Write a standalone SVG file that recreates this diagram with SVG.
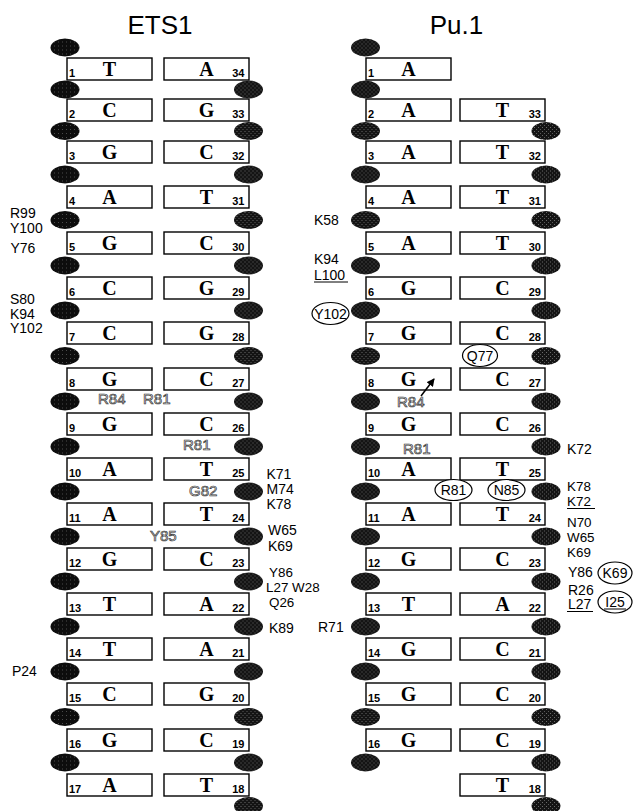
<svg xmlns="http://www.w3.org/2000/svg" xmlns:xlink="http://www.w3.org/1999/xlink" width="633" height="811" viewBox="0 0 633 811">
<style>
  .nt rect { fill: #fff; stroke: #000; stroke-width: 1.4; }
  .b { font-family: "Liberation Serif", serif; font-weight: bold; font-size: 20px; text-anchor: middle; fill: #000; }
  .n { font-family: "Liberation Sans", Arial, sans-serif; font-weight: bold; font-size: 11px; fill: #000; }
  .ne { font-family: "Liberation Sans", Arial, sans-serif; font-weight: bold; font-size: 11px; fill: #000; text-anchor: end; }
  .lab { font-family: "Liberation Sans", Arial, sans-serif; font-size: 14px; fill: #000; }
  .labs { font-family: "Liberation Sans", Arial, sans-serif; font-size: 13.4px; fill: #000; }
  .ol { font-family: "Liberation Sans", Arial, sans-serif; font-size: 15px; fill: #fff; stroke: #333; stroke-width: 0.7; }
  .title { font-family: "Liberation Sans", Arial, sans-serif; font-size: 26px; text-anchor: middle; fill: #000; }
  .ring { fill: #fff; stroke: #000; stroke-width: 1.2; }
  .rt { font-family: "Liberation Sans", Arial, sans-serif; font-size: 14px; text-anchor: middle; fill: #000; }
  .ul { stroke: #000; stroke-width: 1; }
</style>
<defs>
  <pattern id="stipA" width="4" height="4" patternUnits="userSpaceOnUse">
    <rect width="4" height="4" fill="#0d0d0d"/>
    <rect x="1" y="2" width="1" height="1" fill="#4a4a4a"/>
  </pattern>
  <pattern id="stipB" width="4" height="4" patternUnits="userSpaceOnUse">
    <rect width="4" height="4" fill="#141414"/>
    <rect x="0" y="0" width="1" height="1" fill="#6a6a6a"/>
    <rect x="2" y="2" width="1" height="1" fill="#5a5a5a"/>
  </pattern>
  <ellipse id="ovA" rx="14.5" ry="9" fill="url(#stipA)"/>
  <ellipse id="ovB" rx="14.5" ry="9" fill="url(#stipB)"/>
  <marker id="ah" markerWidth="8" markerHeight="8" refX="7" refY="4" orient="auto" markerUnits="userSpaceOnUse">
    <path d="M0,0 L8,4 L0,8 Z" fill="#000"/>
  </marker>
</defs>
<rect width="633" height="811" fill="#fff"/>

<text class="title" x="160" y="34">ETS1</text>
<text class="title" x="456.5" y="34">Pu.1</text>

<!-- ETS1 boxes -->
<g id="ets1-strand-left">
<g id="e-l1" class="nt"><rect x="67" y="58" width="85" height="22"/><text class="b" x="109.5" y="76">T</text><text class="n" x="69" y="76.5">1</text></g>
<g id="e-l2" class="nt"><rect x="67" y="99" width="85" height="22"/><text class="b" x="109.5" y="117">C</text><text class="n" x="69" y="117.5">2</text></g>
<g id="e-l3" class="nt"><rect x="67" y="141" width="85" height="22"/><text class="b" x="109.5" y="159">G</text><text class="n" x="69" y="159.5">3</text></g>
<g id="e-l4" class="nt"><rect x="67" y="186" width="85" height="22"/><text class="b" x="109.5" y="204">A</text><text class="n" x="69" y="204.5">4</text></g>
<g id="e-l5" class="nt"><rect x="67" y="232" width="85" height="22"/><text class="b" x="109.5" y="250">G</text><text class="n" x="69" y="250.5">5</text></g>
<g id="e-l6" class="nt"><rect x="67" y="277" width="85" height="22"/><text class="b" x="109.5" y="295">C</text><text class="n" x="69" y="295.5">6</text></g>
<g id="e-l7" class="nt"><rect x="67" y="322" width="85" height="22"/><text class="b" x="109.5" y="340">C</text><text class="n" x="69" y="340.5">7</text></g>
<g id="e-l8" class="nt"><rect x="67" y="368" width="85" height="22"/><text class="b" x="109.5" y="386">G</text><text class="n" x="69" y="386.5">8</text></g>
<g id="e-l9" class="nt"><rect x="67" y="413" width="85" height="22"/><text class="b" x="109.5" y="431">G</text><text class="n" x="69" y="431.5">9</text></g>
<g id="e-l10" class="nt"><rect x="67" y="458" width="85" height="22"/><text class="b" x="109.5" y="476">A</text><text class="n" x="69" y="476.5">10</text></g>
<g id="e-l11" class="nt"><rect x="67" y="503" width="85" height="22"/><text class="b" x="109.5" y="521">A</text><text class="n" x="69" y="521.5">11</text></g>
<g id="e-l12" class="nt"><rect x="67" y="548" width="85" height="22"/><text class="b" x="109.5" y="566">G</text><text class="n" x="69" y="566.5">12</text></g>
<g id="e-l13" class="nt"><rect x="67" y="593" width="85" height="22"/><text class="b" x="109.5" y="611">T</text><text class="n" x="69" y="611.5">13</text></g>
<g id="e-l14" class="nt"><rect x="67" y="638" width="85" height="22"/><text class="b" x="109.5" y="656">T</text><text class="n" x="69" y="656.5">14</text></g>
<g id="e-l15" class="nt"><rect x="67" y="683" width="85" height="22"/><text class="b" x="109.5" y="701">C</text><text class="n" x="69" y="701.5">15</text></g>
<g id="e-l16" class="nt"><rect x="67" y="729" width="85" height="22"/><text class="b" x="109.5" y="747">G</text><text class="n" x="69" y="747.5">16</text></g>
<g id="e-l17" class="nt"><rect x="67" y="774" width="85" height="22"/><text class="b" x="109.5" y="792">A</text><text class="n" x="69" y="792.5">17</text></g>
</g>
<g id="ets1-strand-right">
<g id="e-r34" class="nt"><rect x="164" y="58" width="85" height="22"/><text class="b" x="206.5" y="76">A</text><text class="ne" x="244.5" y="76.5">34</text></g>
<g id="e-r33" class="nt"><rect x="164" y="99" width="85" height="22"/><text class="b" x="206.5" y="117">G</text><text class="ne" x="244.5" y="117.5">33</text></g>
<g id="e-r32" class="nt"><rect x="164" y="141" width="85" height="22"/><text class="b" x="206.5" y="159">C</text><text class="ne" x="244.5" y="159.5">32</text></g>
<g id="e-r31" class="nt"><rect x="164" y="186" width="85" height="22"/><text class="b" x="206.5" y="204">T</text><text class="ne" x="244.5" y="204.5">31</text></g>
<g id="e-r30" class="nt"><rect x="164" y="232" width="85" height="22"/><text class="b" x="206.5" y="250">C</text><text class="ne" x="244.5" y="250.5">30</text></g>
<g id="e-r29" class="nt"><rect x="164" y="277" width="85" height="22"/><text class="b" x="206.5" y="295">G</text><text class="ne" x="244.5" y="295.5">29</text></g>
<g id="e-r28" class="nt"><rect x="164" y="322" width="85" height="22"/><text class="b" x="206.5" y="340">G</text><text class="ne" x="244.5" y="340.5">28</text></g>
<g id="e-r27" class="nt"><rect x="164" y="368" width="85" height="22"/><text class="b" x="206.5" y="386">C</text><text class="ne" x="244.5" y="386.5">27</text></g>
<g id="e-r26" class="nt"><rect x="164" y="413" width="85" height="22"/><text class="b" x="206.5" y="431">C</text><text class="ne" x="244.5" y="431.5">26</text></g>
<g id="e-r25" class="nt"><rect x="164" y="458" width="85" height="22"/><text class="b" x="206.5" y="476">T</text><text class="ne" x="244.5" y="476.5">25</text></g>
<g id="e-r24" class="nt"><rect x="164" y="503" width="85" height="22"/><text class="b" x="206.5" y="521">T</text><text class="ne" x="244.5" y="521.5">24</text></g>
<g id="e-r23" class="nt"><rect x="164" y="548" width="85" height="22"/><text class="b" x="206.5" y="566">C</text><text class="ne" x="244.5" y="566.5">23</text></g>
<g id="e-r22" class="nt"><rect x="164" y="593" width="85" height="22"/><text class="b" x="206.5" y="611">A</text><text class="ne" x="244.5" y="611.5">22</text></g>
<g id="e-r21" class="nt"><rect x="164" y="638" width="85" height="22"/><text class="b" x="206.5" y="656">A</text><text class="ne" x="244.5" y="656.5">21</text></g>
<g id="e-r20" class="nt"><rect x="164" y="683" width="85" height="22"/><text class="b" x="206.5" y="701">G</text><text class="ne" x="244.5" y="701.5">20</text></g>
<g id="e-r19" class="nt"><rect x="164" y="729" width="85" height="22"/><text class="b" x="206.5" y="747">C</text><text class="ne" x="244.5" y="747.5">19</text></g>
<g id="e-r18" class="nt"><rect x="164" y="774" width="85" height="22"/><text class="b" x="206.5" y="792">T</text><text class="ne" x="244.5" y="792.5">18</text></g>
</g>

<!-- Pu.1 boxes -->
<g id="pu1-strand-left">
<g id="p-l1" class="nt"><rect x="366" y="58" width="85" height="22"/><text class="b" x="408.5" y="76">A</text><text class="n" x="368" y="76.5">1</text></g>
<g id="p-l2" class="nt"><rect x="366" y="99" width="85" height="22"/><text class="b" x="408.5" y="117">A</text><text class="n" x="368" y="117.5">2</text></g>
<g id="p-l3" class="nt"><rect x="366" y="141" width="85" height="22"/><text class="b" x="408.5" y="159">A</text><text class="n" x="368" y="159.5">3</text></g>
<g id="p-l4" class="nt"><rect x="366" y="186" width="85" height="22"/><text class="b" x="408.5" y="204">A</text><text class="n" x="368" y="204.5">4</text></g>
<g id="p-l5" class="nt"><rect x="366" y="232" width="85" height="22"/><text class="b" x="408.5" y="250">A</text><text class="n" x="368" y="250.5">5</text></g>
<g id="p-l6" class="nt"><rect x="366" y="277" width="85" height="22"/><text class="b" x="408.5" y="295">G</text><text class="n" x="368" y="295.5">6</text></g>
<g id="p-l7" class="nt"><rect x="366" y="322" width="85" height="22"/><text class="b" x="408.5" y="340">G</text><text class="n" x="368" y="340.5">7</text></g>
<g id="p-l8" class="nt"><rect x="366" y="368" width="85" height="22"/><text class="b" x="408.5" y="386">G</text><text class="n" x="368" y="386.5">8</text></g>
<g id="p-l9" class="nt"><rect x="366" y="413" width="85" height="22"/><text class="b" x="408.5" y="431">G</text><text class="n" x="368" y="431.5">9</text></g>
<g id="p-l10" class="nt"><rect x="366" y="458" width="85" height="22"/><text class="b" x="408.5" y="476">A</text><text class="n" x="368" y="476.5">10</text></g>
<g id="p-l11" class="nt"><rect x="366" y="503" width="85" height="22"/><text class="b" x="408.5" y="521">A</text><text class="n" x="368" y="521.5">11</text></g>
<g id="p-l12" class="nt"><rect x="366" y="548" width="85" height="22"/><text class="b" x="408.5" y="566">G</text><text class="n" x="368" y="566.5">12</text></g>
<g id="p-l13" class="nt"><rect x="366" y="593" width="85" height="22"/><text class="b" x="408.5" y="611">T</text><text class="n" x="368" y="611.5">13</text></g>
<g id="p-l14" class="nt"><rect x="366" y="638" width="85" height="22"/><text class="b" x="408.5" y="656">G</text><text class="n" x="368" y="656.5">14</text></g>
<g id="p-l15" class="nt"><rect x="366" y="683" width="85" height="22"/><text class="b" x="408.5" y="701">G</text><text class="n" x="368" y="701.5">15</text></g>
<g id="p-l16" class="nt"><rect x="366" y="729" width="85" height="22"/><text class="b" x="408.5" y="747">G</text><text class="n" x="368" y="747.5">16</text></g>
</g>
<g id="pu1-strand-right">
<g id="p-r33" class="nt"><rect x="460" y="99" width="85" height="22"/><text class="b" x="502.5" y="117">T</text><text class="ne" x="541" y="117.5">33</text></g>
<g id="p-r32" class="nt"><rect x="460" y="141" width="85" height="22"/><text class="b" x="502.5" y="159">T</text><text class="ne" x="541" y="159.5">32</text></g>
<g id="p-r31" class="nt"><rect x="460" y="186" width="85" height="22"/><text class="b" x="502.5" y="204">T</text><text class="ne" x="541" y="204.5">31</text></g>
<g id="p-r30" class="nt"><rect x="460" y="232" width="85" height="22"/><text class="b" x="502.5" y="250">T</text><text class="ne" x="541" y="250.5">30</text></g>
<g id="p-r29" class="nt"><rect x="460" y="277" width="85" height="22"/><text class="b" x="502.5" y="295">C</text><text class="ne" x="541" y="295.5">29</text></g>
<g id="p-r28" class="nt"><rect x="460" y="322" width="85" height="22"/><text class="b" x="502.5" y="340">C</text><text class="ne" x="541" y="340.5">28</text></g>
<g id="p-r27" class="nt"><rect x="460" y="368" width="85" height="22"/><text class="b" x="502.5" y="386">C</text><text class="ne" x="541" y="386.5">27</text></g>
<g id="p-r26" class="nt"><rect x="460" y="413" width="85" height="22"/><text class="b" x="502.5" y="431">C</text><text class="ne" x="541" y="431.5">26</text></g>
<g id="p-r25" class="nt"><rect x="460" y="458" width="85" height="22"/><text class="b" x="502.5" y="476">T</text><text class="ne" x="541" y="476.5">25</text></g>
<g id="p-r24" class="nt"><rect x="460" y="503" width="85" height="22"/><text class="b" x="502.5" y="521">T</text><text class="ne" x="541" y="521.5">24</text></g>
<g id="p-r23" class="nt"><rect x="460" y="548" width="85" height="22"/><text class="b" x="502.5" y="566">C</text><text class="ne" x="541" y="566.5">23</text></g>
<g id="p-r22" class="nt"><rect x="460" y="593" width="85" height="22"/><text class="b" x="502.5" y="611">A</text><text class="ne" x="541" y="611.5">22</text></g>
<g id="p-r21" class="nt"><rect x="460" y="638" width="85" height="22"/><text class="b" x="502.5" y="656">C</text><text class="ne" x="541" y="656.5">21</text></g>
<g id="p-r20" class="nt"><rect x="460" y="683" width="85" height="22"/><text class="b" x="502.5" y="701">C</text><text class="ne" x="541" y="701.5">20</text></g>
<g id="p-r19" class="nt"><rect x="460" y="729" width="85" height="22"/><text class="b" x="502.5" y="747">C</text><text class="ne" x="541" y="747.5">19</text></g>
<g id="p-r18" class="nt"><rect x="460" y="774" width="85" height="22"/><text class="b" x="502.5" y="792">T</text><text class="ne" x="541" y="792.5">18</text></g>
</g>

<!-- phosphates -->
<g id="ets1-phosphates-left">
<use xlink:href="#ovA" x="65" y="47.5"/><use xlink:href="#ovA" x="65" y="89.5"/><use xlink:href="#ovA" x="65" y="131"/><use xlink:href="#ovA" x="65" y="174.5"/>
<use xlink:href="#ovA" x="65" y="220"/><use xlink:href="#ovA" x="65" y="265.5"/><use xlink:href="#ovA" x="65" y="310.5"/><use xlink:href="#ovA" x="65" y="356"/>
<use xlink:href="#ovA" x="65" y="401.5"/><use xlink:href="#ovA" x="65" y="446.5"/><use xlink:href="#ovA" x="65" y="491.5"/><use xlink:href="#ovA" x="65" y="536.5"/>
<use xlink:href="#ovA" x="65" y="581.5"/><use xlink:href="#ovA" x="65" y="626.5"/><use xlink:href="#ovA" x="65" y="671.5"/><use xlink:href="#ovA" x="65" y="717"/>
<use xlink:href="#ovA" x="65" y="762.5"/>
</g>
<g id="ets1-phosphates-right">
<use xlink:href="#ovB" x="248.5" y="89.5"/><use xlink:href="#ovB" x="248.5" y="131"/><use xlink:href="#ovB" x="248.5" y="174.5"/>
<use xlink:href="#ovB" x="248.5" y="220"/><use xlink:href="#ovB" x="248.5" y="265.5"/><use xlink:href="#ovB" x="248.5" y="310.5"/><use xlink:href="#ovB" x="248.5" y="356"/>
<use xlink:href="#ovB" x="248.5" y="401.5"/><use xlink:href="#ovB" x="248.5" y="446.5"/><use xlink:href="#ovB" x="248.5" y="491.5"/><use xlink:href="#ovB" x="248.5" y="536.5"/>
<use xlink:href="#ovB" x="248.5" y="581.5"/><use xlink:href="#ovB" x="248.5" y="626.5"/><use xlink:href="#ovB" x="248.5" y="671.5"/><use xlink:href="#ovB" x="248.5" y="717"/>
<use xlink:href="#ovB" x="248.5" y="762.5"/><use xlink:href="#ovB" x="248.5" y="806"/>
</g>
<g id="pu1-phosphates-left">
<use xlink:href="#ovB" x="365.5" y="47.5"/><use xlink:href="#ovB" x="365.5" y="89.5"/><use xlink:href="#ovB" x="365.5" y="131"/><use xlink:href="#ovB" x="365.5" y="174.5"/>
<use xlink:href="#ovB" x="365.5" y="220"/><use xlink:href="#ovB" x="365.5" y="265.5"/><use xlink:href="#ovB" x="365.5" y="310.5"/><use xlink:href="#ovB" x="365.5" y="356"/>
<use xlink:href="#ovB" x="365.5" y="401.5"/><use xlink:href="#ovB" x="365.5" y="446.5"/><use xlink:href="#ovB" x="365.5" y="491.5"/><use xlink:href="#ovB" x="365.5" y="536.5"/>
<use xlink:href="#ovB" x="365.5" y="581.5"/><use xlink:href="#ovB" x="365.5" y="626.5"/><use xlink:href="#ovB" x="365.5" y="671.5"/><use xlink:href="#ovB" x="365.5" y="717"/>
<use xlink:href="#ovB" x="365.5" y="762.5"/>
</g>
<g id="pu1-phosphates-right">
<use xlink:href="#ovB" x="546" y="131"/><use xlink:href="#ovB" x="546" y="174.5"/>
<use xlink:href="#ovB" x="546" y="220"/><use xlink:href="#ovB" x="546" y="265.5"/><use xlink:href="#ovB" x="546" y="310.5"/><use xlink:href="#ovB" x="546" y="356"/>
<use xlink:href="#ovB" x="546" y="401.5"/><use xlink:href="#ovB" x="546" y="446.5"/><use xlink:href="#ovB" x="546" y="491.5"/><use xlink:href="#ovB" x="546" y="536.5"/>
<use xlink:href="#ovB" x="546" y="581.5"/><use xlink:href="#ovB" x="546" y="626.5"/><use xlink:href="#ovB" x="546" y="671.5"/><use xlink:href="#ovB" x="546" y="717"/>
<use xlink:href="#ovB" x="546" y="762.5"/><use xlink:href="#ovB" x="546" y="806"/>
</g>

<!-- ETS1 labels -->
<g id="ets1-labels">
<text class="lab" x="10" y="218">R99</text>
<text class="lab" x="10" y="233">Y100</text>
<text class="lab" x="10.5" y="253">Y76</text>
<text class="lab" x="10" y="304">S80</text>
<text class="lab" x="10" y="318.5">K94</text>
<text class="lab" x="10" y="333">Y102</text>
<text class="lab" x="12" y="676">P24</text>
<text class="lab" x="266.5" y="478.5">K71</text>
<text class="lab" x="266.5" y="493.5">M74</text>
<text class="lab" x="266.5" y="508.5">K78</text>
<text class="lab" x="268" y="535">W65</text>
<text class="lab" x="268" y="551">K69</text>
<text class="labs" x="269" y="576.5">Y86</text>
<text class="labs" x="266" y="591.5">L27 W28</text>
<text class="labs" x="269" y="606.5">Q26</text>
<text class="lab" x="269" y="633">K89</text>
<text class="ol" x="98" y="404">R84</text>
<text class="ol" x="143" y="404">R81</text>
<text class="ol" x="183" y="450">R81</text>
<text class="ol" x="189" y="496">G82</text>
<text class="ol" x="150" y="541">Y85</text>
</g>

<!-- Pu.1 labels -->
<g id="pu1-labels">
<text class="lab" x="314" y="225">K58</text>
<text class="lab" x="314" y="263.5">K94</text>
<text class="lab" x="314" y="279.5">L100</text>
<line class="ul" x1="314" y1="282" x2="348" y2="282"/>
<text class="ol" x="397" y="407">R84</text>
<text class="ol" x="403" y="453.5">R81</text>
<text class="lab" x="567" y="453.5">K72</text>
<text class="labs" x="567" y="491">K78</text>
<text class="labs" x="567" y="506">K72</text>
<line class="ul" x1="567" y1="508.5" x2="595" y2="508.5"/>
<text class="labs" x="567" y="526.5">N70</text>
<text class="labs" x="567" y="541.5">W65</text>
<text class="labs" x="567" y="556.5">K69</text>
<text class="lab" x="568" y="577">Y86</text>
<text class="lab" x="568" y="594.5">R26</text>
<text class="lab" x="568" y="609">L27</text>
<line class="ul" x1="567" y1="611.5" x2="593" y2="611.5"/>
<text class="lab" x="318" y="632">R71</text>
</g>
<g id="pu1-ringed">
<g id="ring-y102"><ellipse class="ring" cx="330.5" cy="313.5" rx="18.5" ry="11"/><text class="rt" x="330.5" y="318.5">Y102</text></g>
<g id="ring-q77"><ellipse class="ring" cx="480" cy="355.5" rx="17.5" ry="11"/><text class="rt" x="480" y="360.5">Q77</text></g>
<g id="ring-r81"><ellipse class="ring" cx="453.5" cy="490" rx="18.5" ry="10.5"/><text class="rt" x="453.5" y="495">R81</text></g>
<g id="ring-n85"><ellipse class="ring" cx="506.5" cy="490" rx="18.5" ry="10.5"/><text class="rt" x="506.5" y="495">N85</text></g>
<g id="ring-k69"><ellipse class="ring" cx="615" cy="573" rx="17" ry="11"/><text class="rt" x="615" y="578">K69</text></g>
<g id="ring-i25"><ellipse class="ring" cx="615" cy="602" rx="17" ry="11"/><text class="rt" x="615" y="607">I25</text><line class="ul" x1="604" y1="609" x2="626" y2="609"/></g>
</g>

<g id="connectors">
<line x1="421" y1="396" x2="434" y2="379" stroke="#000" stroke-width="1.5" marker-end="url(#ah)"/>
</g>
</svg>
